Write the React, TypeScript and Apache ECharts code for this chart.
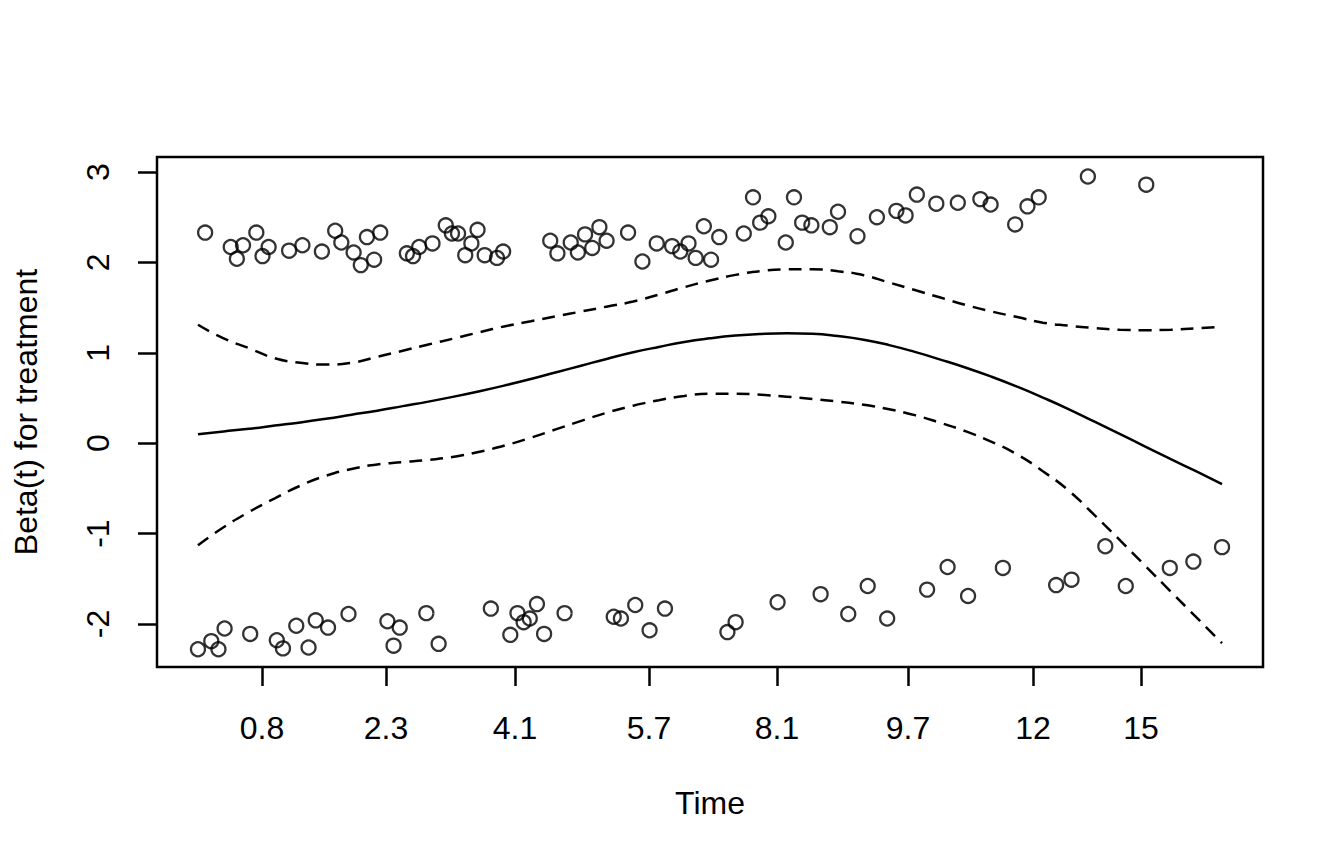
import { useEffect, useRef } from "react";
import * as echarts from "echarts";

// x is the transformed time scale (0 = first event, 1 = last event)
const tickPos = [0.0625, 0.1836, 0.3096, 0.4404, 0.5654, 0.6934, 0.8154, 0.9209];
const tickLabels = ["0.8", "2.3", "4.1", "5.7", "8.1", "9.7", "12", "15"];
const yTicks = [-2, -1, 0, 1, 2, 3];

// scaled Schoenfeld residuals, upper cluster
const upperX = [
  0.007, 0.032, 0.038, 0.044, 0.057, 0.063, 0.069, 0.089, 0.102, 0.121, 0.134, 0.140, 0.152, 0.159, 0.165,
  0.172, 0.178, 0.204, 0.210, 0.216, 0.229, 0.242, 0.248, 0.254, 0.261, 0.267, 0.273, 0.280, 0.292, 0.298,
  0.344, 0.351, 0.364, 0.371, 0.378, 0.385, 0.392, 0.399, 0.420, 0.434, 0.448, 0.463, 0.471, 0.479, 0.486,
  0.494, 0.501, 0.509, 0.533, 0.542, 0.549, 0.557, 0.574, 0.582, 0.590, 0.599, 0.617, 0.625, 0.644, 0.663,
  0.682, 0.691, 0.702, 0.721, 0.742, 0.764, 0.774, 0.798, 0.810, 0.821, 0.869, 0.926,
];
const upperY = [
  2.33, 2.17, 2.04, 2.19, 2.33, 2.07, 2.17, 2.13, 2.19, 2.12, 2.35, 2.22, 2.11, 1.97, 2.28,
  2.03, 2.33, 2.10, 2.07, 2.17, 2.21, 2.41, 2.32, 2.32, 2.08, 2.21, 2.36, 2.08, 2.05, 2.12,
  2.24, 2.10, 2.22, 2.11, 2.31, 2.16, 2.39, 2.24, 2.33, 2.01, 2.21, 2.18, 2.12, 2.21, 2.05,
  2.40, 2.03, 2.28, 2.32, 2.72, 2.44, 2.51, 2.22, 2.72, 2.44, 2.41, 2.39, 2.56, 2.29, 2.50,
  2.57, 2.52, 2.75, 2.65, 2.66, 2.70, 2.64, 2.42, 2.62, 2.72, 2.95, 2.86,
];

// lower cluster
const lowerX = [
  0.000, 0.013, 0.020, 0.026, 0.051, 0.077, 0.083, 0.096, 0.108, 0.115, 0.127, 0.147, 0.185, 0.191, 0.197,
  0.223, 0.235, 0.286, 0.305, 0.312, 0.318, 0.324, 0.331, 0.338, 0.358, 0.406, 0.413, 0.427, 0.441, 0.456,
  0.517, 0.525, 0.566, 0.608, 0.635, 0.654, 0.673, 0.712, 0.732, 0.752, 0.786, 0.838, 0.853, 0.886, 0.906,
  0.949, 0.972, 1.000,
];
const lowerY = [
  -2.28, -2.19, -2.28, -2.05, -2.11, -2.18, -2.27, -2.02, -2.26, -1.96, -2.04, -1.89, -1.97, -2.24, -2.04,
  -1.88, -2.22, -1.83, -2.12, -1.88, -1.98, -1.94, -1.78, -2.11, -1.88, -1.92, -1.94, -1.79, -2.07, -1.83,
  -2.09, -1.98, -1.76, -1.67, -1.89, -1.58, -1.94, -1.62, -1.37, -1.69, -1.38, -1.57, -1.51, -1.14, -1.58,
  -1.38, -1.31, -1.15,
];

// smoothed beta(t) and its confidence band, read every 0.025
const curveX = [
  0, 0.025, 0.05, 0.075, 0.1, 0.125, 0.15, 0.175, 0.2, 0.225, 0.25, 0.275, 0.3, 0.325, 0.35, 0.375, 0.4,
  0.425, 0.45, 0.475, 0.5, 0.525, 0.55, 0.575, 0.6, 0.625, 0.65, 0.675, 0.7, 0.725, 0.75, 0.775, 0.8, 0.825,
  0.85, 0.875, 0.9, 0.925, 0.95, 0.975, 1,
];
const fitY = [
  0.10, 0.13, 0.16, 0.195, 0.23, 0.27, 0.315, 0.36, 0.41, 0.46, 0.515, 0.575, 0.64, 0.71, 0.785, 0.86, 0.935,
  1.005, 1.065, 1.12, 1.16, 1.19, 1.208, 1.215, 1.21, 1.185, 1.145, 1.085, 1.01, 0.925, 0.835, 0.735,
  0.625, 0.505, 0.378, 0.24, 0.102, -0.037, -0.176, -0.313, -0.452,
];
const upperBand = [
  1.31, 1.16, 1.05, 0.94, 0.89, 0.87, 0.89, 0.955, 1.023, 1.092, 1.159, 1.228, 1.294, 1.349, 1.404, 1.458,
  1.513, 1.567, 1.644, 1.726, 1.80, 1.862, 1.905, 1.923, 1.925, 1.902, 1.858, 1.777, 1.694, 1.611, 1.528,
  1.457, 1.395, 1.333, 1.30, 1.275, 1.255, 1.25, 1.255, 1.27, 1.29,
];
const lowerBand = [
  -1.13, -0.93, -0.76, -0.61, -0.47, -0.36, -0.285, -0.235, -0.21, -0.185, -0.15, -0.095, -0.025, 0.06,
  0.155, 0.25, 0.34, 0.415, 0.475, 0.523, 0.548, 0.547, 0.535, 0.515, 0.49, 0.46, 0.425, 0.375, 0.31,
  0.225, 0.13, 0.015, -0.125, -0.31, -0.522, -0.79, -1.07, -1.356, -1.642, -1.927, -2.212,
];

const FONT = "'Liberation Sans', Arial, Helvetica, sans-serif";

export default function App() {
  const ref = useRef<HTMLDivElement>(null);

  useEffect(() => {
    if (!ref.current) return;
    const chart = echarts.init(ref.current, undefined, { renderer: "svg" });
    const pts = (xs: number[], ys: number[]) => xs.map((x, i) => [x, ys[i]]);
    const curve = (ys: number[], dashed: boolean) => ({
      type: "line",
      data: pts(curveX, ys),
      smooth: true,
      symbol: "none",
      silent: true,
      lineStyle: { color: "#000", width: 2.5, type: dashed ? [13, 8] : "solid" },
    });
    const dots = (xs: number[], ys: number[]) => ({
      type: "scatter",
      data: pts(xs, ys),
      symbol: "circle",
      symbolSize: 14,
      itemStyle: { color: "transparent", borderColor: "#000", borderWidth: 2.3 },
    });
    chart.setOption({
      animation: false,
      backgroundColor: "#fff",
      textStyle: { fontFamily: FONT },
      grid: {
        left: 157,
        top: 157,
        width: 1106,
        height: 510,
        show: true,
        borderColor: "#000",
        borderWidth: 2.5,
        backgroundColor: "transparent",
      },
      xAxis: {
        type: "value",
        min: -0.04,
        max: 1.04,
        name: "Time",
        nameLocation: "middle",
        nameGap: 120,
        nameTextStyle: { fontSize: 32, color: "#000", fontFamily: FONT },
        axisLine: { show: false, onZero: false },
        splitLine: { show: false },
        axisTick: { show: true, length: 19, customValues: tickPos, lineStyle: { color: "#000", width: 2.5 } },
        axisLabel: {
          customValues: tickPos,
          margin: 45,
          fontSize: 32,
          color: "#000",
          fontFamily: FONT,
          formatter: (v: number) => {
            const i = tickPos.findIndex((p) => Math.abs(p - v) < 1e-6);
            return i >= 0 ? tickLabels[i] : "";
          },
        },
      },
      yAxis: {
        type: "value",
        min: -2.476,
        max: 3.166,
        name: "Beta(t) for treatment",
        nameLocation: "middle",
        nameGap: 115,
        nameTextStyle: { fontSize: 32, color: "#000", fontFamily: FONT },
        axisLine: { show: false, onZero: false },
        splitLine: { show: false },
        axisTick: { show: true, length: 19, customValues: yTicks, lineStyle: { color: "#000", width: 2.5 } },
        axisLabel: {
          customValues: yTicks,
          rotate: 90,
          margin: 43,
          fontSize: 32,
          color: "#000",
          fontFamily: FONT,
          formatter: (v: number) => String(v),
        },
      },
      series: [
        dots(upperX, upperY),
        dots(lowerX, lowerY),
        curve(fitY, false),
        curve(upperBand, true),
        curve(lowerBand, true),
      ],
    });
    return () => chart.dispose();
  }, []);

  return (
    <div
      ref={ref}
      style={{ position: "fixed", left: 0, top: 0, width: 1344, height: 864, background: "#fff" }}
    />
  );
}
